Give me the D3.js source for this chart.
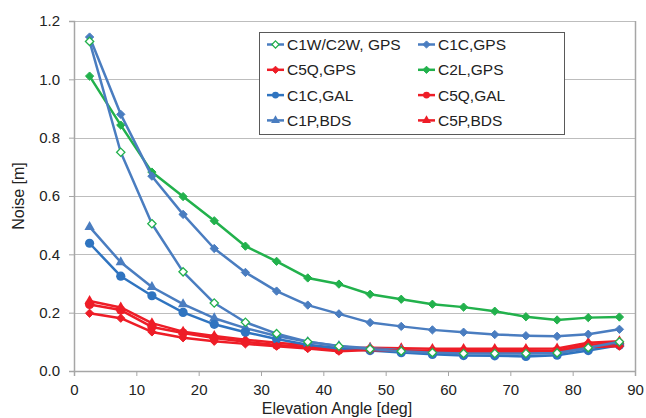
<!DOCTYPE html>
<html>
<head>
<meta charset="utf-8">
<script src="https://cdn.jsdelivr.net/npm/d3@7"></script>
<style>
  body { margin: 0; background: #fff; }
  text { font-family: "Liberation Sans", Arial, sans-serif; fill: #222; }
</style>
</head>
<body>
<script>
// elevation bins (deg)
var elev = [2.5, 7.5, 12.5, 17.5, 22.5, 27.5, 32.5, 37.5, 42.5, 47.5, 52.5, 57.5, 62.5, 67.5, 72.5, 77.5, 82.5, 87.5];

var c1wGps = [1.13, 0.75, 0.505, 0.34, 0.233, 0.167, 0.128, 0.1, 0.085, 0.075, 0.068, 0.063, 0.06, 0.06, 0.06, 0.062, 0.08, 0.1];
var c1cGps = [1.145, 0.88, 0.668, 0.537, 0.42, 0.338, 0.274, 0.226, 0.196, 0.166, 0.153, 0.141, 0.133, 0.125, 0.121, 0.119, 0.126, 0.143];
var c5qGps = [0.198, 0.181, 0.134, 0.114, 0.102, 0.093, 0.085, 0.077, 0.068, 0.072, 0.07, 0.068, 0.066, 0.066, 0.066, 0.068, 0.082, 0.085];
var c2lGps = [1.011, 0.843, 0.682, 0.598, 0.515, 0.428, 0.376, 0.319, 0.298, 0.263, 0.246, 0.229, 0.219, 0.205, 0.186, 0.175, 0.183, 0.185];
var c1cGal = [0.438, 0.325, 0.258, 0.201, 0.16, 0.133, 0.11, 0.09, 0.077, 0.07, 0.063, 0.057, 0.053, 0.052, 0.05, 0.054, 0.07, 0.088];
var c5qGal = [0.228, 0.209, 0.151, 0.13, 0.113, 0.1, 0.089, 0.082, 0.072, 0.074, 0.07, 0.068, 0.068, 0.068, 0.068, 0.07, 0.09, 0.095];
var c1pBds = [0.494, 0.373, 0.288, 0.229, 0.181, 0.147, 0.12, 0.1, 0.086, 0.078, 0.072, 0.066, 0.063, 0.062, 0.061, 0.062, 0.078, 0.095];
var c5pBds = [0.24, 0.218, 0.164, 0.135, 0.12, 0.107, 0.097, 0.088, 0.078, 0.08, 0.078, 0.076, 0.076, 0.076, 0.076, 0.077, 0.097, 0.102];

var xTicks = [0, 10, 20, 30, 40, 50, 60, 70, 80, 90];
var yTicks = [0, 0.2, 0.4, 0.6, 0.8, 1.0, 1.2];

var blue = "#4a7dc0", blue2 = "#2f74c0", green = "#22b14c", red = "#ee1d27";

// legend order: column-wise rows as in the original
var series = [
    { name: "C1W/C2W, GPS", values: c1wGps, line: blue, marker: "diamondOpen", mcolor: green },
    { name: "C1C,GPS", values: c1cGps, line: blue, marker: "diamond", mcolor: blue },
    { name: "C5Q,GPS", values: c5qGps, line: red, marker: "diamond", mcolor: red },
    { name: "C2L,GPS", values: c2lGps, line: green, marker: "diamond", mcolor: green },
    { name: "C1C,GAL", values: c1cGal, line: blue2, marker: "circle", mcolor: blue2 },
    { name: "C5Q,GAL", values: c5qGal, line: red, marker: "circle", mcolor: red },
    { name: "C1P,BDS", values: c1pBds, line: blue, marker: "triangle", mcolor: blue },
    { name: "C5P,BDS", values: c5pBds, line: red, marker: "triangle", mcolor: red }
];

var w = 646,
    h = 418;

var margin = { top: 21, right: 11, bottom: 47, left: 74 },
    width = w - margin.left - margin.right,
    height = h - margin.top - margin.bottom;

var svg = d3
    .select("body")
    .append("svg")
    .attr("width", w)
    .attr("height", h)
    .append("g")
    .attr("transform", "translate(" + margin.left + "," + margin.top + ")");

var x = d3.scaleLinear().domain([0, 90]).range([0, width]);
var y = d3.scaleLinear().domain([0, 1.2]).range([height, 0]);

// gridlines
svg.append("g")
    .selectAll("line")
    .data(yTicks.slice(1))
    .enter()
    .append("line")
    .attr("x1", 0)
    .attr("x2", width)
    .attr("y1", function (d) { return Math.round(y(d)) + 0.5; })
    .attr("y2", function (d) { return Math.round(y(d)) + 0.5; })
    .attr("stroke", "#bdbdbd")
    .attr("stroke-width", 1);

// right border
svg.append("line")
    .attr("x1", Math.round(width) + 0.5)
    .attr("x2", Math.round(width) + 0.5)
    .attr("y1", 0)
    .attr("y2", height)
    .attr("stroke", "#a6a6a6")
    .attr("stroke-width", 1.5);

// axes
var xaxis = svg.append("g")
    .attr("transform", "translate(0," + height + ")")
    .call(d3.axisBottom(x).tickValues(xTicks).tickSize(5).tickPadding(8).tickFormat(d3.format("d")));
var yaxis = svg.append("g")
    .call(d3.axisLeft(y).tickValues(yTicks).tickSize(5).tickPadding(9).tickFormat(d3.format(".1f")));

[xaxis, yaxis].forEach(function (a) {
    a.select(".domain").attr("stroke", "#a6a6a6").attr("stroke-width", 1.5);
    a.selectAll(".tick line").attr("stroke", "#a6a6a6");
    a.selectAll(".tick text")
        .attr("font-size", 15)
        .attr("font-family", "Liberation Sans, Arial, sans-serif")
        .attr("fill", "#222");
});

// marker drawing
function drawMarker(g, type, color, size) {
    var s = size || 1;
    if (type === "diamond" || type === "diamondOpen") {
        g.append("path")
            .attr("d", d3.symbol().type(d3.symbolDiamond2).size(44 * s)())
            .attr("fill", type === "diamond" ? color : "#fff")
            .attr("stroke", color)
            .attr("stroke-width", type === "diamond" ? 1 : 1.3);
    } else if (type === "circle") {
        g.append("circle").attr("r", 4.6 * s).attr("fill", color);
    } else {
        g.append("path")
            .attr("d", d3.symbol().type(d3.symbolTriangle).size(46 * s)())
            .attr("fill", color);
    }
}

var line = d3.line()
    .x(function (d) { return x(d[0]); })
    .y(function (d) { return y(d[1]); });

// draw in reverse so the first series is on top
series.slice().reverse().forEach(function (s) {
    var pts = elev.map(function (e, i) { return [e, s.values[i]]; });
    svg.append("path")
        .datum(pts)
        .attr("d", line)
        .attr("fill", "none")
        .attr("stroke", s.line)
        .attr("stroke-width", 2.5)
        .attr("stroke-linejoin", "round");
    pts.forEach(function (p) {
        var g = svg.append("g").attr("transform", "translate(" + x(p[0]) + "," + y(p[1]) + ")");
        drawMarker(g, s.marker, s.mcolor);
    });
});

// legend
var lg = svg.append("g").attr("transform", "translate(" + (259 - margin.left) + "," + (32 - margin.top) + ")");
lg.append("rect")
    .attr("x", 0.5)
    .attr("y", 0.5)
    .attr("width", 305)
    .attr("height", 102)
    .attr("fill", "#fff")
    .attr("stroke", "#595959")
    .attr("stroke-width", 1);

series.forEach(function (s, i) {
    var col = i % 2, row = Math.floor(i / 2);
    var gx = 8 + col * 151, gy = 12.5 + row * 25.3;
    var g = lg.append("g").attr("transform", "translate(" + gx + "," + gy + ")");
    g.append("line")
        .attr("x1", 0).attr("x2", 17)
        .attr("stroke", s.line)
        .attr("stroke-width", 2.5);
    var m = g.append("g").attr("transform", "translate(8.5,0)");
    drawMarker(m, s.marker, s.mcolor, 0.75);
    g.append("text")
        .attr("x", 20)
        .attr("dy", "0.36em")
        .attr("font-size", 15.5)
        .text(s.name);
});

// axis titles
svg.append("text")
    .attr("x", 337 - margin.left)
    .attr("y", 414 - margin.top)
    .attr("text-anchor", "middle")
    .attr("font-size", 16)
    .text("Elevation Angle [deg]");

svg.append("text")
    .attr("transform", "translate(" + (24 - margin.left) + "," + (196 - margin.top) + ") rotate(-90)")
    .attr("text-anchor", "middle")
    .attr("font-size", 16)
    .text("Noise [m]");
</script>
</body>
</html>
